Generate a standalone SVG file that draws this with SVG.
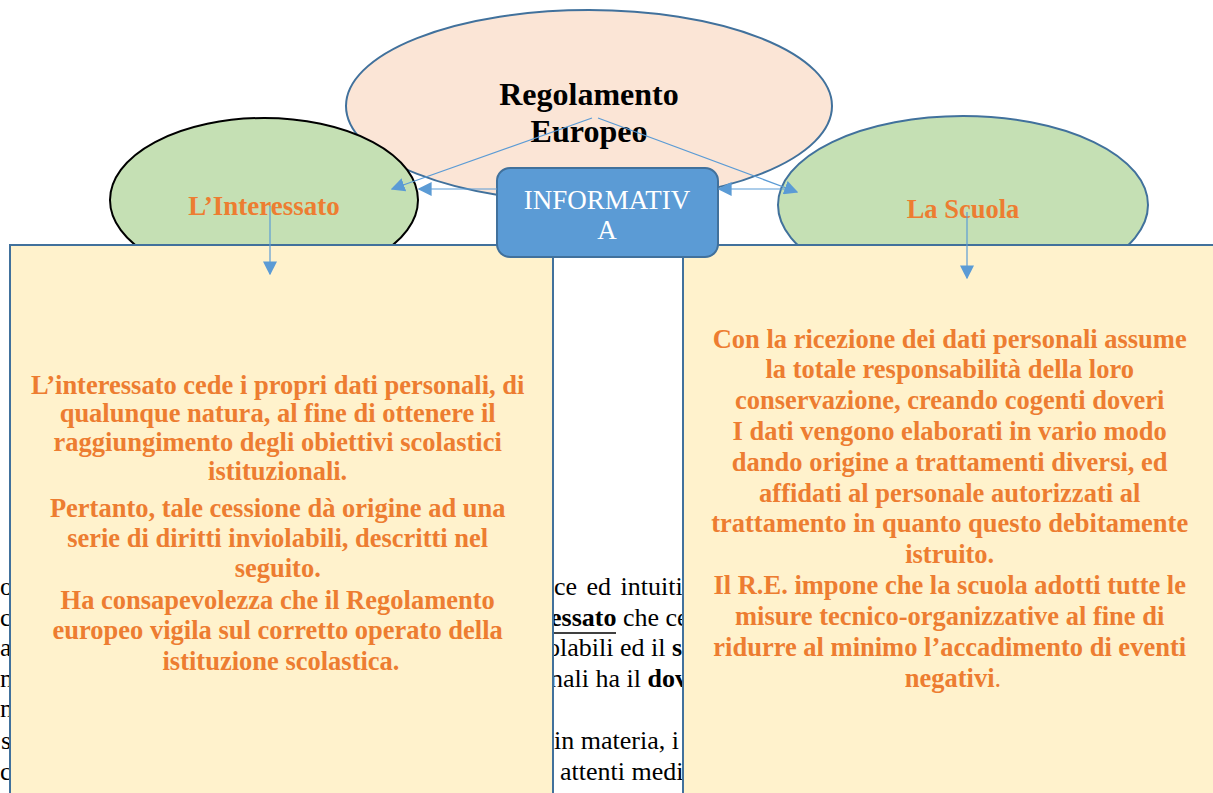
<svg xmlns="http://www.w3.org/2000/svg" width="1213" height="793" viewBox="0 0 1213 793">
<defs>
<style>
.bg{font-family:"Liberation Serif",serif;font-size:26px;fill:#000}
.or{font-family:"Liberation Serif",serif;font-size:26.5px;font-weight:bold;fill:#ED7D31;text-anchor:middle}
.box{fill:#FFF2CC;stroke:#41719C;stroke-width:2}
.conn{stroke:#5B9BD5;stroke-width:1.2;fill:none;marker-end:url(#ah)}
</style>
<marker id="ah" viewBox="0 0 10 10" refX="9" refY="5" markerWidth="14" markerHeight="14" markerUnits="userSpaceOnUse" orient="auto">
<path d="M0,0 L10,5 L0,10 z" fill="#5B9BD5"/>
</marker>
</defs>
<rect width="1213" height="793" fill="#fff"/>
<g id="background-text" class="bg">
<text x="0" y="595">o</text>
<text x="0" y="626">cu</text>
<text x="0" y="656">ar</text>
<text x="0" y="687">ne</text>
<text x="0" y="717">ni</text>
<text x="1" y="749">s</text>
<text x="0" y="780">c</text>
<text x="554" y="595" word-spacing="3">ce ed intuitiv</text>
<text x="550" y="626"><tspan font-weight="bold">essato</tspan> che ce</text>
<line x1="553" y1="633" x2="616" y2="633" stroke="#000" stroke-width="1.5"/>
<text x="547" y="656">olabili ed il <tspan font-weight="bold">s</tspan></text>
<text x="550" y="687">nali ha il <tspan font-weight="bold">dov</tspan></text>
<text x="554" y="749">in materia, i</text>
<text x="560" y="780">attenti medi</text>
</g>
<g id="regolamento">
<ellipse cx="589" cy="106" rx="243" ry="96" fill="#FBE5D6" stroke="#41719C" stroke-width="2"/>
<text x="589" y="105" text-anchor="middle" font-family="Liberation Serif,serif" font-size="32" font-weight="bold">Regolamento</text>
<text x="589" y="142" text-anchor="middle" font-family="Liberation Serif,serif" font-size="32" font-weight="bold">Europeo</text>
</g>
<g id="interessato">
<ellipse cx="264" cy="200" rx="154" ry="82" fill="#C5E0B4" stroke="#000" stroke-width="2"/>
<text x="264" y="215" class="or" style="font-size:27px">L’Interessato</text>
</g>
<g id="scuola">
<ellipse cx="963" cy="205" rx="185" ry="89" fill="#C5E0B4" stroke="#41719C" stroke-width="2"/>
<text x="963" y="218" class="or">La Scuola</text>
</g>
<g id="box-interessato">
<rect x="10" y="245" width="543" height="560" class="box"/>
<text class="or">
<tspan x="281" y="394">L’interessato cede i propri dati personali, di</tspan>
<tspan x="281" y="422">qualunque natura, al fine di ottenere il</tspan>
<tspan x="281" y="451">raggiungimento degli obiettivi scolastici</tspan>
<tspan x="281" y="480">istituzionali.</tspan>
<tspan x="281" y="517">Pertanto, tale cessione dà origine ad una</tspan>
<tspan x="281" y="547">serie di diritti inviolabili, descritti nel</tspan>
<tspan x="281" y="577">seguito.</tspan>
<tspan x="281" y="609">Ha consapevolezza che il Regolamento</tspan>
<tspan x="281" y="639">europeo vigila sul corretto operato della</tspan>
<tspan x="281" y="670">istituzione scolastica.</tspan>
</text>
</g>
<g id="box-scuola">
<rect x="683" y="245" width="540" height="560" class="box"/>
<text class="or">
<tspan x="953" y="348">Con la ricezione dei dati personali assume</tspan>
<tspan x="953" y="378">la totale responsabilità della loro</tspan>
<tspan x="953" y="409">conservazione, creando cogenti doveri</tspan>
<tspan x="953" y="440">I dati vengono elaborati in vario modo</tspan>
<tspan x="953" y="471">dando origine a trattamenti diversi, ed</tspan>
<tspan x="953" y="502">affidati al personale autorizzati al</tspan>
<tspan x="953" y="532">trattamento in quanto questo debitamente</tspan>
<tspan x="953" y="563">istruito.</tspan>
<tspan x="953" y="594">Il R.E. impone che la scuola adotti tutte le</tspan>
<tspan x="953" y="625">misure tecnico-organizzative al fine di</tspan>
<tspan x="953" y="656">ridurre al minimo l’accadimento di eventi</tspan>
<tspan x="953" y="687">negativi<tspan font-weight="normal">.</tspan></tspan>
</text>
</g>
<g id="informativa">
<rect x="497" y="168" width="221" height="89" rx="13" fill="#5B9BD5" stroke="#41719C" stroke-width="2"/>
<text x="607" y="209" text-anchor="middle" font-family="Liberation Serif,serif" font-size="27" fill="#fff">INFORMATIV</text>
<text x="607" y="239" text-anchor="middle" font-family="Liberation Serif,serif" font-size="27" fill="#fff">A</text>
</g>
<g id="connectors">
<line x1="592" y1="118" x2="392" y2="189" class="conn"/>
<line x1="598" y1="118" x2="797" y2="192" class="conn"/>
<line x1="497" y1="189" x2="419" y2="189" class="conn"/>
<line x1="785" y1="189" x2="719" y2="189" class="conn"/>
<line x1="270" y1="206" x2="270" y2="274" class="conn"/>
<line x1="967" y1="212" x2="967" y2="278" class="conn"/>
</g>
</svg>
